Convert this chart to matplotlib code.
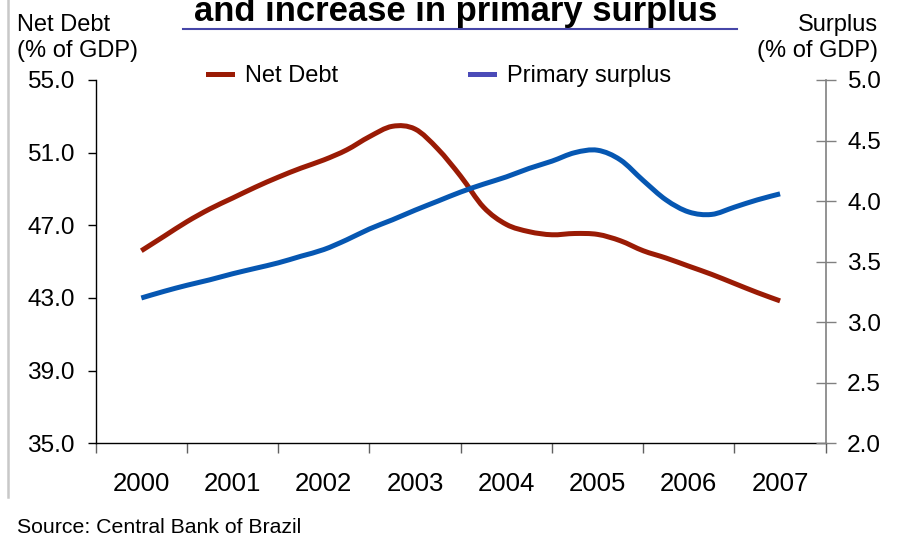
import matplotlib
matplotlib.use("Agg")
import matplotlib.pyplot as plt
from matplotlib.lines import Line2D
from matplotlib.path import Path
from matplotlib.patches import PathPatch

plt.rcParams['font.family'] = ['Liberation Sans', 'DejaVu Sans']

# Quarterly positions (years since start of 2000, mid-2000 = 0.5)
years = [2000, 2001, 2002, 2003, 2004, 2005, 2006, 2007]
t = [0.5, 0.75, 1.0, 1.25, 1.5, 1.75, 2.0, 2.25, 2.5, 2.75, 3.0, 3.25, 3.5,
     3.75, 4.0, 4.25, 4.5, 4.75, 5.0, 5.25, 5.5, 5.75, 6.0, 6.25, 6.5, 6.75,
     7.0, 7.25, 7.5]
net_debt = [45.6, 46.4, 47.2, 47.9, 48.5, 49.1, 49.65, 50.15, 50.6, 51.15,
            51.88, 52.45, 52.3, 51.2, 49.7, 48.0, 47.05, 46.65, 46.48, 46.55,
            46.5, 46.15, 45.6, 45.2, 44.75, 44.3, 43.8, 43.3, 42.84]
primary_surplus = [3.20, 3.255, 3.305, 3.35, 3.40, 3.445, 3.49, 3.545, 3.60,
                   3.68, 3.77, 3.845, 3.925, 4.0, 4.075, 4.14, 4.20, 4.27,
                   4.33, 4.40, 4.42, 4.34, 4.17, 4.01, 3.91, 3.89, 3.95,
                   4.01, 4.06]
left_ticks = [35.0, 39.0, 43.0, 47.0, 51.0, 55.0]
right_ticks = [2.0, 2.5, 3.0, 3.5, 4.0, 4.5, 5.0]

RED = '#9A1B05'
BLUE = '#0657B2'
W, H = 899, 539


def smooth_path(xs, ys):
    """Excel-style smoothed line: cubic Bezier segments through the data points."""
    verts = [(xs[0], ys[0])]
    codes = [Path.MOVETO]
    n = len(xs)
    for i in range(n - 1):
        x0, y0 = (xs[i - 1], ys[i - 1]) if i > 0 else (xs[i], ys[i])
        x1, y1 = xs[i], ys[i]
        x2, y2 = xs[i + 1], ys[i + 1]
        x3, y3 = (xs[i + 2], ys[i + 2]) if i + 2 < n else (x2, y2)
        c1 = (x1 + (x2 - x0) / 6, y1 + (y2 - y0) / 6)
        c2 = (x2 - (x3 - x1) / 6, y2 - (y3 - y1) / 6)
        verts += [c1, c2, (x2, y2)]
        codes += [Path.CURVE4] * 3
    return Path(verts, codes)


fig = plt.figure(figsize=(W / 100, H / 100), dpi=100)
ax = fig.add_axes([95.7 / W, 1 - 443.3 / H, (825.7 - 95.7) / W, (443.3 - 80) / H])
ax2 = ax.twinx()

ax.add_patch(PathPatch(smooth_path(t, net_debt), facecolor='none', edgecolor=RED,
                       lw=3.6, joinstyle='round', capstyle='butt', zorder=3))
ax2.add_patch(PathPatch(smooth_path(t, primary_surplus), facecolor='none', edgecolor=BLUE,
                        lw=3.6, joinstyle='round', capstyle='butt', zorder=3))

ax.set_xlim(0, 8)
ax.set_ylim(35, 55)
ax2.set_ylim(2, 5)

fs = 17
ax.set_yticks(left_ticks)
ax.set_yticklabels([f"{v:.1f}" for v in left_ticks], fontsize=17.6)
ax.tick_params(axis='y', direction='out', length=6, width=1, pad=9, colors='black')
ax2.set_yticks(right_ticks)
ax2.set_yticklabels([f"{v:.1f}" for v in right_ticks], fontsize=17.6)
ax2.tick_params(axis='y', direction='inout', length=15, width=1, pad=8, color='#808080', labelcolor='black')

ax.set_xticks(range(0, 9))
ax.set_xticklabels([])
ax.tick_params(axis='x', which='major', direction='out', length=7, width=1, color='#606060')
ax.set_xticks([y - years[0] + 0.5 for y in years], minor=True)
ax.set_xticklabels([str(y) for y in years], minor=True, fontsize=18.5)
ax.tick_params(axis='x', which='minor', length=0, pad=21)

for a in (ax, ax2):
    a.spines['top'].set_visible(False)
ax2.spines['left'].set_visible(False)
ax2.spines['bottom'].set_visible(False)
ax.spines['right'].set_visible(False)
ax2.spines['right'].set_color('#808080')
ax2.spines['right'].set_linewidth(1.2)
ax.spines['left'].set_linewidth(1)
ax.spines['bottom'].set_linewidth(1)

# Axis titles
fig.text(17 / W, 1 - 57 / H, "Net Debt\n(% of GDP)", fontsize=fs, ha='left',
         va='baseline', linespacing=1.25)
fig.text(878 / W, 1 - 57 / H, "Surplus\n(% of GDP)", fontsize=fs, ha='right',
         va='baseline', linespacing=1.25, multialignment='right')

# Title (cropped at top, as in the source slide)
fig.text(456 / W, 1 - 21 / H, "and increase in primary surplus", fontsize=24.9,
         fontweight='bold', ha='center', va='baseline')
fig.add_artist(Line2D([183 / W, 737 / W], [1 - 28.5 / H, 1 - 28.5 / H],
                      color='#4646A8', lw=1.5, transform=fig.transFigure))

# Left gray border line
fig.add_artist(Line2D([8 / W, 8 / W], [1, 1 - 497 / H], color='#C8C8C8', lw=1.8,
                      transform=fig.transFigure))

# Legend
handles = [Line2D([], [], color=RED, lw=3.6), Line2D([], [], color='#4B4BB8', lw=3.6)]
fig.legend(handles, ["Net Debt", "Primary surplus"], ncol=2, frameon=False,
           fontsize=fs, handlelength=1.0, handletextpad=0.55, columnspacing=5.6,
           loc='center left', bbox_to_anchor=(208 / W, 1 - 76 / H),
           borderaxespad=0, borderpad=0)

fig.text(17 / W, 1 - 533 / H, "Source: Central Bank of Brazil", fontsize=15.3,
         ha='left', va='baseline')

fig.savefig("out.png", dpi=100)
